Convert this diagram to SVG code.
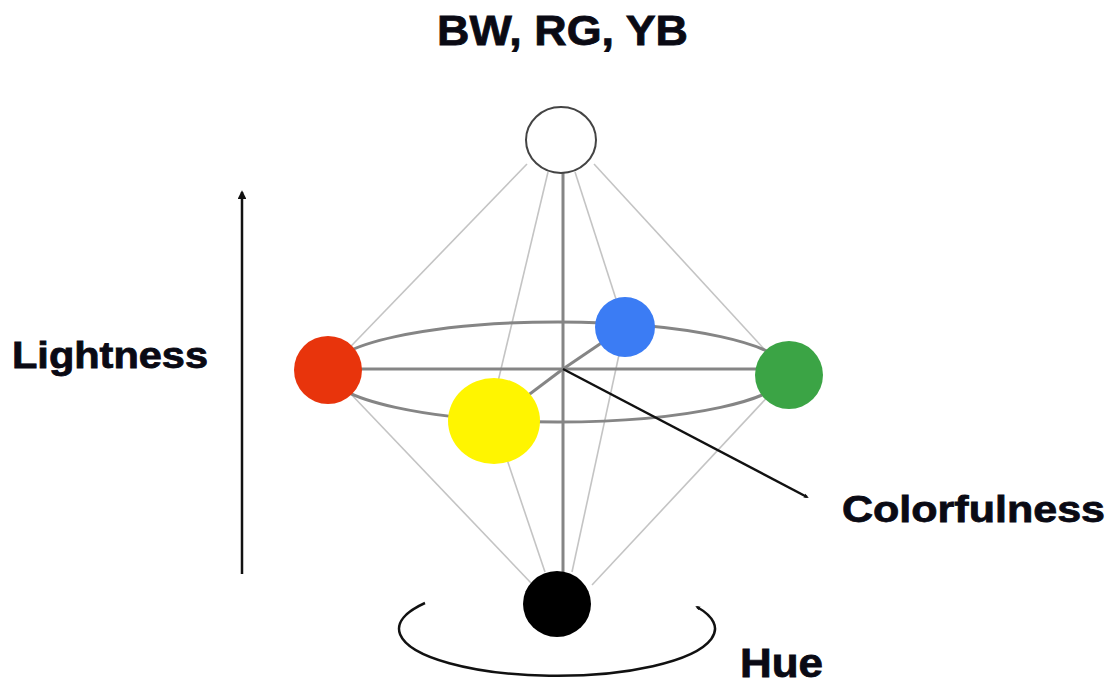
<svg xmlns="http://www.w3.org/2000/svg" width="1108" height="683" viewBox="0 0 1108 683">
<defs>
<style>
.lbl{font-family:"Liberation Sans",Arial,sans-serif;font-weight:bold;fill:#0a0a14;stroke:#0a0a14;stroke-width:0.8}
.thin{stroke:#c4c4c4;stroke-width:1.6;fill:none}
.axis{stroke:#858585;stroke-width:3;fill:none}
.blk{stroke:#111;stroke-width:2.5;fill:none}
</style>
<marker id="ah" viewBox="0 0 10 10" refX="8" refY="5" markerWidth="3.5" markerHeight="3.5" orient="auto" markerUnits="strokeWidth">
<path d="M0,0 L10,5 L0,10 z" fill="#111"/>
</marker>
<marker id="ahs" viewBox="0 0 10 10" refX="6" refY="5" markerWidth="2" markerHeight="2" orient="auto" markerUnits="strokeWidth">
<path d="M0,1 L10,5 L0,9 z" fill="#111"/>
</marker>
</defs>
<rect width="1108" height="683" fill="#fff"/>
<g id="connectors">
<line class="thin" x1="527" y1="164" x2="328" y2="370"/>
<line class="thin" x1="548" y1="172" x2="496" y2="390"/>
<line class="thin" x1="575" y1="172" x2="625" y2="327"/>
<line class="thin" x1="594" y1="164" x2="788" y2="375"/>
<line class="thin" x1="328" y1="370" x2="532" y2="584"/>
<line class="thin" x1="494" y1="421" x2="545" y2="572"/>
<line class="thin" x1="625" y1="327" x2="572" y2="572"/>
<line class="thin" x1="788" y1="375" x2="592" y2="585"/>
<ellipse class="axis" cx="558" cy="372" rx="230" ry="50"/>
<line class="axis" x1="328" y1="369" x2="788" y2="369"/>
<line class="axis" x1="563" y1="172" x2="563" y2="572"/>
<line class="axis" x1="563" y1="369" x2="625" y2="327"/>
<line class="axis" x1="563" y1="369" x2="494" y2="421"/>
<line class="blk" x1="563" y1="369" x2="807" y2="497" marker-end="url(#ahs)"/>
<line class="blk" x1="242" y1="574" x2="242" y2="192" marker-end="url(#ah)"/>
<path class="blk" d="M425,603 A158,47 0 1 0 697,607" marker-end="url(#ahs)"/>
</g>
<g id="node-white"><ellipse cx="561" cy="140" rx="35" ry="33" fill="#fff" stroke="#444" stroke-width="2"/></g>
<g id="node-red"><circle cx="328" cy="370" r="34" fill="#e8340c"/></g>
<g id="node-blue"><circle cx="625" cy="327" r="30" fill="#3b7cf4"/></g>
<g id="node-green"><circle cx="789" cy="375" r="34" fill="#3ba445"/></g>
<g id="node-yellow"><ellipse cx="494" cy="421" rx="46" ry="43" fill="#fff500"/></g>
<g id="node-black"><ellipse cx="557" cy="604" rx="34" ry="33" fill="#000"/></g>
<g id="labels">
<text class="lbl" x="437" y="45" font-size="42" textLength="251" lengthAdjust="spacingAndGlyphs">BW, RG, YB</text>
<text class="lbl" x="12" y="368" font-size="36" textLength="196" lengthAdjust="spacingAndGlyphs">Lightness</text>
<text class="lbl" x="842" y="522" font-size="37" textLength="263" lengthAdjust="spacingAndGlyphs">Colorfulness</text>
<text class="lbl" x="740" y="677" font-size="40" textLength="83" lengthAdjust="spacingAndGlyphs">Hue</text>
</g>
</svg>
